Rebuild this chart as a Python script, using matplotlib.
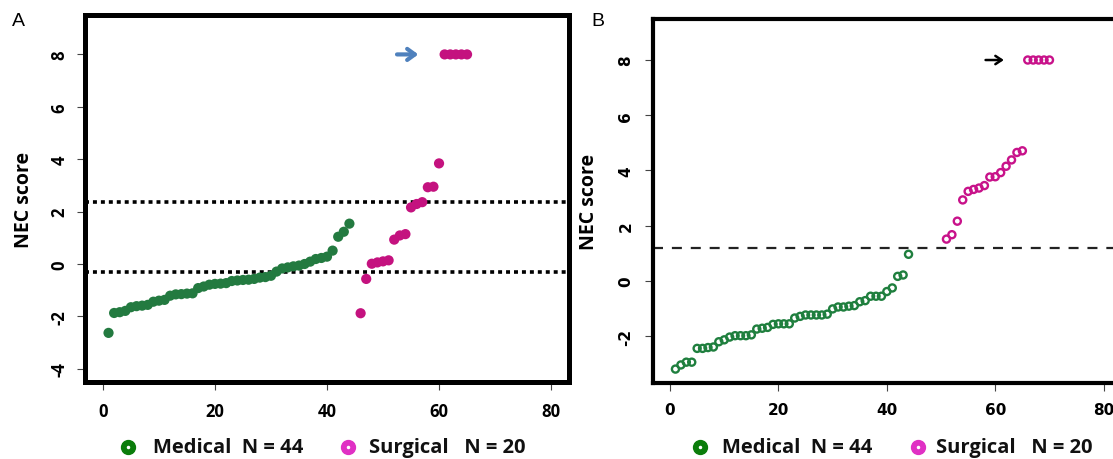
import matplotlib
matplotlib.use("Agg")
import matplotlib.pyplot as plt
from matplotlib.lines import Line2D

plt.rcParams["axes.unicode_minus"] = False

# ---------------- data ----------------
# Panel A
a_med_x = list(range(1, 45))
a_med_y = [-2.63, -1.87, -1.84, -1.79, -1.65, -1.61, -1.59, -1.56, -1.44, -1.40,
           -1.37, -1.21, -1.16, -1.15, -1.13, -1.12, -0.92, -0.86, -0.79, -0.76,
           -0.75, -0.73, -0.65, -0.63, -0.61, -0.60, -0.57, -0.52, -0.50, -0.45,
           -0.29, -0.17, -0.13, -0.09, -0.06, 0.00, 0.09, 0.19, 0.23, 0.28,
           0.51, 1.04, 1.23, 1.54]
a_sur_x = list(range(46, 66))
a_sur_y = [-1.88, -0.57, 0.01, 0.06, 0.10, 0.14, 0.93, 1.09, 1.14, 2.16,
           2.29, 2.36, 2.93, 2.95, 3.84, 8.0, 8.0, 8.0, 8.0, 8.0]
a_hlines = [2.37, -0.29]
a_arrow_x = [52.0, 56.8]
a_arrow_y = 8.0

# Panel B
b_med_x = list(range(1, 45))
b_med_y = [-3.20, -3.05, -2.95, -2.95, -2.45, -2.45, -2.42, -2.40, -2.21, -2.14,
           -2.04, -1.99, -1.99, -1.99, -1.96, -1.75, -1.72, -1.69, -1.58, -1.56,
           -1.56, -1.56, -1.35, -1.29, -1.24, -1.24, -1.24, -1.24, -1.21, -1.02,
           -0.95, -0.95, -0.92, -0.90, -0.76, -0.72, -0.56, -0.56, -0.56, -0.39,
           -0.26, 0.16, 0.21, 0.96]
b_sur_x = list(range(51, 71))
b_sur_y = [1.51, 1.67, 2.16, 2.93, 3.24, 3.31, 3.36, 3.45, 3.76, 3.77,
           3.92, 4.15, 4.38, 4.65, 4.71, 8.0, 8.0, 8.0, 8.0, 8.0]
b_hline = 1.19
b_arrow_x = [57.7, 62.1]
b_arrow_y = 8.0

x_ticks = [0, 20, 40, 60, 80]
a_y_ticks = [-4, -2, 0, 2, 4, 6, 8]
b_y_ticks = [-2, 0, 2, 4, 6, 8]
legend_labels = ["Medical  N = 44", "Surgical   N = 20"]

# ---------------- figure ----------------
W, H = 1113, 460
fig = plt.figure(figsize=(W / 100, H / 100), dpi=100)


def px_axes(left, top, right, bottom):
    return fig.add_axes([left / W, 1 - bottom / H, (right - left) / W, (bottom - top) / H])


A_GREEN, A_MAG = "#237a40", "#c4127f"
B_GREEN, B_MAG = "#1f7f3e", "#c8128a"

# ---- Panel A ----
axA = px_axes(85, 15.6, 569, 383.4)
axA.set_xlim(-3.2, 83.2)
axA.set_ylim(-4.52, 9.52)
axA.scatter(a_med_x, a_med_y, s=54, color=A_GREEN, edgecolor="none", zorder=3)
axA.scatter(a_sur_x, a_sur_y, s=54, color=A_MAG, edgecolor="none", zorder=3)
for h in a_hlines:
    axA.axhline(h, color="black", lw=2.6, linestyle=(0, (1.1, 1.1)), zorder=2)
axA.annotate("", xy=(a_arrow_x[1], a_arrow_y), xytext=(a_arrow_x[0], a_arrow_y),
             arrowprops=dict(arrowstyle="->,head_length=0.55,head_width=0.4",
                             color="#4f81bd", lw=3.0))
for s in axA.spines.values():
    s.set_linewidth(3.6)
axA.set_xticks(x_ticks)
axA.set_yticks(a_y_ticks)
axA.tick_params(axis="both", direction="out", length=6, width=0.8, color="#444444")
axA.tick_params(axis="y", pad=6)
axA.tick_params(axis="x", pad=8)
for lab in axA.get_yticklabels():
    lab.set_rotation(90)
    lab.set_va("center")
    lab.set_fontfamily("Open Sans")
    lab.set_fontweight("bold")
    lab.set_fontsize(12)
for lab in axA.get_xticklabels():
    lab.set_fontfamily("Open Sans")
    lab.set_fontweight("bold")
    lab.set_fontsize(12)
axA.set_ylabel("NEC score", fontsize=14, fontweight="bold", family="Open Sans", labelpad=12)
fig.text(18 / W, 1 - 22 / H, "A", fontsize=14, family="Liberation Sans", va="center", ha="center")

# ---- Panel B ----
axB = px_axes(652.7, 19.9, 1121, 383.6)
axB.set_xlim(-3.2, 83.2)
axB.set_ylim(-3.69, 9.49)
axB.scatter(b_med_x, b_med_y, s=26, facecolor="none", edgecolor=B_GREEN, linewidth=1.7, zorder=3)
axB.scatter(b_sur_x, b_sur_y, s=26, facecolor="none", edgecolor=B_MAG, linewidth=1.7, zorder=3)
axB.axhline(b_hline, color="#222222", lw=1.6, linestyle=(0, (4.5, 4)), zorder=2)
axB.annotate("", xy=(b_arrow_x[1], b_arrow_y), xytext=(b_arrow_x[0], b_arrow_y),
             arrowprops=dict(arrowstyle="->,head_length=0.45,head_width=0.3",
                             color="black", lw=1.8))
for s in axB.spines.values():
    s.set_linewidth(3.0)
axB.set_xticks(x_ticks)
axB.set_yticks(b_y_ticks)
axB.tick_params(axis="both", direction="out", length=6, width=0.8, color="#444444")
axB.tick_params(axis="y", pad=8)
axB.tick_params(axis="x", pad=8)
for lab in axB.get_yticklabels():
    lab.set_rotation(90)
    lab.set_va("center")
    lab.set_fontfamily("DejaVu Sans")
    lab.set_fontweight("bold")
    lab.set_fontsize(11)
for lab in axB.get_xticklabels():
    lab.set_fontfamily("DejaVu Sans")
    lab.set_fontweight("bold")
    lab.set_fontsize(11)
axB.set_ylabel("NEC score", fontsize=14, fontweight="bold", family="Open Sans", labelpad=14)
fig.text(598 / W, 1 - 22 / H, "B", fontsize=14, family="Liberation Sans", va="center", ha="center")

# ---- legends (drawn as figure decorations) ----
LEG_GREEN, LEG_MAG = "#0b7d0b", "#e030c4"
leg_y = 1 - 448 / H
legend_layout = [  # (marker x px, text x px) for each panel's two entries
    [(128, 153), (348, 369)],
    [(700, 722), (918, 936)],
]
for entries in legend_layout:
    for (mx, tx), col, lbl in zip(entries, (LEG_GREEN, LEG_MAG), legend_labels):
        fig.add_artist(Line2D([mx / W], [leg_y], transform=fig.transFigure, marker="o",
                              linestyle="none", markersize=10, markerfacecolor=col,
                              markeredgecolor=col))
        fig.add_artist(Line2D([mx / W], [leg_y], transform=fig.transFigure, marker="o",
                              linestyle="none", markersize=1.5, markerfacecolor="white",
                              markeredgecolor="white"))
        fig.text(tx / W, leg_y, lbl, ha="left", va="center", family="Open Sans",
                 fontweight="bold", fontsize=14.5, color="#111111")

fig.savefig("out.png", dpi=100)
